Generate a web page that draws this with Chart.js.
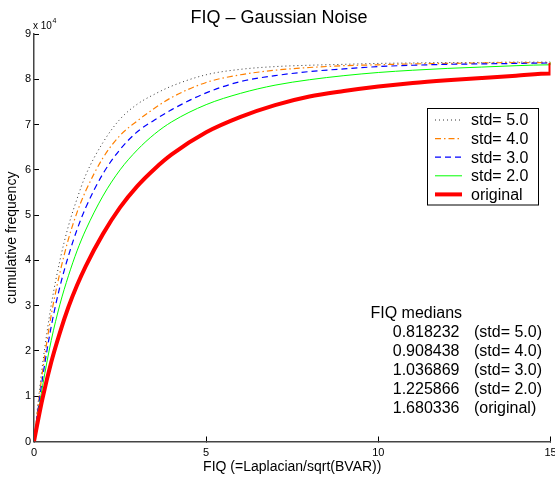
<!DOCTYPE html>
<html>
<head>
<meta charset="utf-8">
<title>FIQ – Gaussian Noise</title>
<script src="https://cdn.jsdelivr.net/npm/chart.js@4.4.1/dist/chart.umd.min.js"></script>
<style>
  html, body { margin: 0; padding: 0; background: #fff; }
  canvas { display: block; }
</style>
</head>
<body>
<canvas id="fiq-chart" width="555" height="477"></canvas>
<script>
// FIQ values on the x axis; counts are in units of 10^4
const fiqValues = [0, 0.1, 0.25, 0.5, 0.75, 1, 1.25, 1.5, 2, 2.5, 3, 3.5, 4, 5, 6, 7, 8, 9, 10, 11, 12, 13, 14, 15, 15];

const std5Counts = [0, 0.73, 1.71, 3.01, 3.99, 4.76, 5.36, 5.88, 6.6, 7.12, 7.45, 7.67, 7.85, 8.1, 8.22, 8.28, 8.31, 8.33, 8.35, 8.36, 8.37, 8.37, 8.38, 8.38, 8.39];
const std4Counts = [0, 0.66, 1.56, 2.79, 3.72, 4.47, 5.06, 5.53, 6.26, 6.76, 7.08, 7.36, 7.6, 7.93, 8.1, 8.2, 8.26, 8.3, 8.32, 8.34, 8.35, 8.36, 8.37, 8.37, 8.38];
const std3Counts = [0, 0.6, 1.41, 2.54, 3.41, 4.1, 4.68, 5.16, 5.91, 6.45, 6.84, 7.1, 7.33, 7.7, 7.95, 8.08, 8.17, 8.23, 8.28, 8.31, 8.33, 8.34, 8.35, 8.36, 8.38];
const std2Counts = [0, 0.52, 1.23, 2.23, 3.02, 3.66, 4.21, 4.67, 5.42, 6.0, 6.44, 6.79, 7.06, 7.44, 7.69, 7.87, 7.99, 8.08, 8.15, 8.2, 8.24, 8.27, 8.3, 8.32, 8.37];
const originalCounts = [0, 0.4, 0.96, 1.75, 2.4, 2.97, 3.45, 3.87, 4.58, 5.17, 5.64, 6.02, 6.34, 6.83, 7.17, 7.43, 7.62, 7.74, 7.84, 7.92, 7.98, 8.03, 8.08, 8.13, 8.36];

const xTickValues = [0, 5, 10, 15];
const yTickValues = [0, 1, 2, 3, 4, 5, 6, 7, 8, 9];

const seriesLabels = ['std= 5.0', 'std= 4.0', 'std= 3.0', 'std= 2.0', 'original'];
const medianValues = ['0.818232', '0.908438', '1.036869', '1.225866', '1.680336'];
const medianLabels = ['(std= 5.0)', '(std= 4.0)', '(std= 3.0)', '(std= 2.0)', '(original)'];

const FONT = '"Liberation Sans", Arial, Helvetica, sans-serif';

// line styles, same order as seriesLabels
const lineStyles = [
    { color: '#333333', width: 1, dash: [1, 3] },
    { color: '#ff8000', width: 1.2, dash: [6, 3, 1.5, 3] },
    { color: '#0000ff', width: 1.2, dash: [6, 4] },
    { color: '#00ff00', width: 1, dash: [] },
    { color: '#ff0000', width: 4, dash: [] }
];
const seriesCounts = [std5Counts, std4Counts, std3Counts, std2Counts, originalCounts];

const toPoints = (counts) => fiqValues.map((x, i) => ({ x: x, y: counts[i] }));

// original first so it is drawn on top
const datasets = seriesLabels.map((label, i) => ({
    label: label,
    data: toPoints(seriesCounts[i]),
    borderColor: lineStyles[i].color,
    borderWidth: lineStyles[i].width,
    borderDash: lineStyles[i].dash,
    pointRadius: 0,
    fill: false,
    cubicInterpolationMode: 'monotone'
})).reverse();

const annotations = {
    id: 'annotations',
    afterDraw(chart) {
        const ctx = chart.ctx;
        const area = chart.chartArea;
        ctx.save();
        ctx.fillStyle = '#000';
        ctx.textBaseline = 'alphabetic';

        // title
        ctx.font = '18px ' + FONT;
        ctx.textAlign = 'center';
        ctx.fillText('FIQ \u2013 Gaussian Noise', 279, 23);

        // axis labels
        ctx.font = '14px ' + FONT;
        ctx.fillText('FIQ (=Laplacian/sqrt(BVAR))', (area.left + area.right) / 2, 471);
        ctx.save();
        ctx.translate(12, (area.top + area.bottom) / 2);
        ctx.rotate(-Math.PI / 2);
        ctx.textBaseline = 'middle';
        ctx.fillText('cumulative frequency', 0, 0);
        ctx.restore();

        // exponent
        ctx.textAlign = 'left';
        ctx.font = '10px ' + FONT;
        ctx.fillText('x 10', 33, 28.5);
        ctx.font = '7px ' + FONT;
        ctx.fillText('4', 52.5, 23);

        // legend box
        ctx.fillStyle = '#fff';
        ctx.fillRect(427, 108.5, 111, 96.5);
        ctx.strokeStyle = '#000';
        ctx.lineWidth = 1;
        ctx.setLineDash([]);
        ctx.strokeRect(427.5, 108.5, 111, 96.5);
        ctx.font = '16px ' + FONT;
        ctx.textBaseline = 'middle';
        seriesLabels.forEach((label, i) => {
            const y = 120 + i * 18.6;
            const st = lineStyles[i];
            ctx.beginPath();
            ctx.strokeStyle = st.color;
            ctx.lineWidth = st.width;
            ctx.setLineDash(st.dash);
            ctx.moveTo(435, y);
            ctx.lineTo(462, y);
            ctx.stroke();
            ctx.fillStyle = '#000';
            ctx.fillText(label, 471, y + 1);
        });
        ctx.setLineDash([]);

        // medians
        ctx.textBaseline = 'alphabetic';
        ctx.fillStyle = '#000';
        ctx.fillText('FIQ medians', 370.5, 318);
        medianValues.forEach((v, i) => {
            const y = 337 + i * 18.9;
            ctx.textAlign = 'right';
            ctx.fillText(v, 459.5, y);
            ctx.textAlign = 'left';
            ctx.fillText(medianLabels[i], 474, y);
        });
        ctx.restore();
    }
};

new Chart(document.getElementById('fiq-chart'), {
    type: 'line',
    data: { datasets: datasets },
    options: {
        responsive: false,
        animation: false,
        layout: { padding: { top: 34, right: 4.5, bottom: 0, left: 0 } },
        plugins: {
            legend: { display: false },
            tooltip: { enabled: false },
            title: { display: false }
        },
        scales: {
            x: {
                type: 'linear',
                min: 0,
                max: 15,
                afterBuildTicks: (s) => { s.ticks = xTickValues.map(v => ({ value: v })); },
                afterFit: (s) => { s.height = 35.5; s.paddingLeft = 0; s.paddingRight = 0; },
                border: { display: true, color: '#444', width: 1.5 },
                grid: { display: true, drawOnChartArea: false, drawTicks: true, tickLength: -5, color: '#000', lineWidth: 1 },
                ticks: { color: '#000', padding: 10, maxRotation: 0, font: { family: FONT, size: 11 } }
            },
            y: {
                type: 'linear',
                min: 0,
                max: 9,
                afterBuildTicks: (s) => { s.ticks = yTickValues.map(v => ({ value: v })); },
                afterFit: (s) => { s.width = 34; s.paddingTop = 0; s.paddingBottom = 0; },
                border: { display: true, color: '#444', width: 1.5 },
                grid: { display: true, drawOnChartArea: false, drawTicks: true, tickLength: -5, color: '#000', lineWidth: 1 },
                ticks: { color: '#000', padding: 8, font: { family: FONT, size: 11 } }
            }
        }
    },
    plugins: [annotations]
});
</script>
</body>
</html>
